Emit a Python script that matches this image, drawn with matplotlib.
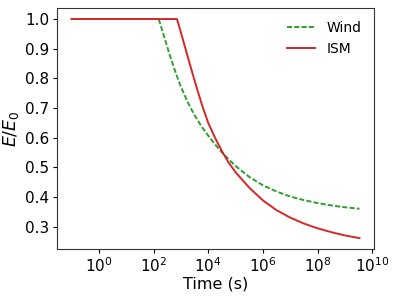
import matplotlib
matplotlib.use("Agg")
import matplotlib.pyplot as plt

# Data
t_wind = [1e-1, 155, 251, 398, 631, 1000, 1778, 3162, 5623, 1e4, 17783, 31623,
          56234, 1e5, 316228, 1e6, 3.162e6, 1e7, 3.162e7, 1e8, 3.162e8, 1e9, 3.39e9]
e_wind = [1.0, 1.0, 0.937, 0.877, 0.822, 0.772, 0.720, 0.676, 0.639, 0.607, 0.578,
          0.551, 0.527, 0.505, 0.468, 0.440, 0.419, 0.402, 0.390, 0.380, 0.372,
          0.366, 0.361]

t_ism = [1e-1, 724, 1000, 1585, 2512, 3981, 6310, 1e4, 17783, 31623, 56234, 1e5,
         316228, 1e6, 3.162e6, 1e7, 3.162e7, 1e8, 3.162e8, 1e9, 3.39e9]
e_ism = [1.0, 1.0, 0.955, 0.890, 0.825, 0.762, 0.703, 0.650, 0.600, 0.555, 0.516,
         0.484, 0.432, 0.389, 0.356, 0.331, 0.311, 0.295, 0.282, 0.271, 0.262]

labels = ["Wind", "ISM"]

fig = plt.figure(figsize=(3.99, 2.99), dpi=100)
ax = fig.add_axes([0.143, 0.167, 0.794, 0.806])
ax.plot(t_wind, e_wind, color="#2ca02c", linestyle="--", lw=1.4,
        dashes=(2.6, 1.15), label=labels[0])
ax.plot(t_ism, e_ism, color="#d62728", linestyle="-", lw=1.4, label=labels[1])
ax.set_xscale("log")
ax.set_xticks([1e0, 1e2, 1e4, 1e6, 1e8, 1e10])
ax.set_yticks([0.3, 0.4, 0.5, 0.6, 0.7, 0.8, 0.9, 1.0])
ax.minorticks_off()
ax.tick_params(labelsize=11, length=3, pad=2.5)
for s in ax.spines.values():
    s.set_color("#333333")
ax.set_xlabel("Time (s)", fontsize=11.5, labelpad=1)
ax.set_ylabel(r"$E/E_0$", fontsize=12.5, labelpad=3)
ax.legend(frameon=False, fontsize=10, loc="upper right")
fig.savefig("out.png", dpi=100)
